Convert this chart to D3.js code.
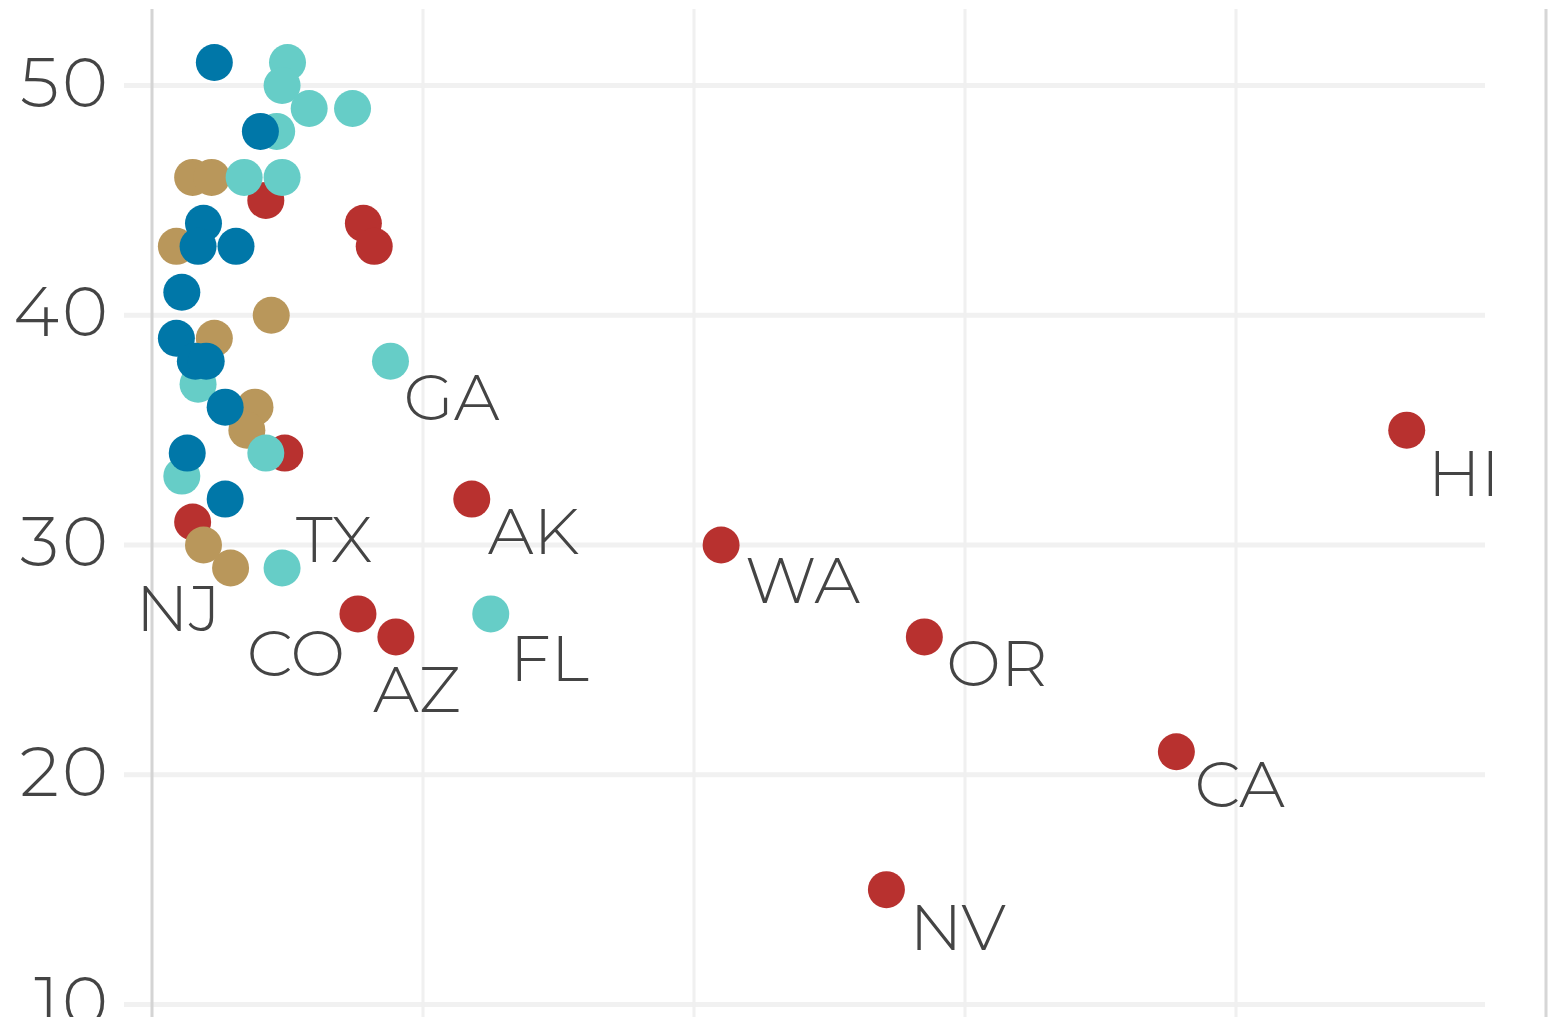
<!DOCTYPE html>
<html>
<head>
<meta charset="utf-8">
<script src="https://d3js.org/d3.v7.min.js"></script>
<style>
  body { margin: 0; background: #fff; }
  text { font-family: Montserrat, Lato, 'Open Sans', sans-serif; font-weight: 300; fill: #444; }
</style>
</head>
<body>
<div id="chart"></div>
<script>
// state labels ('' = unlabelled), region, x value, y value
const labels = [
  'AK', 'AZ', 'CA', 'CO', 'HI', 'NV', 'OR', 'WA', '', '', '', '', '',
  '', '', '', '', '', '', '', 'NJ', '',
  '', '', '', '', '', '', '', 'GA', '', '', '', 'TX', 'FL',
  '', '', '', '', '', '', '', '', '', '', '', '',
];
const region = [
  'West', 'West', 'West', 'West', 'West', 'West', 'West', 'West', 'West', 'West', 'West', 'West', 'West',
  'Northeast', 'Northeast', 'Northeast', 'Northeast', 'Northeast', 'Northeast', 'Northeast', 'Northeast', 'Northeast',
  'South', 'South', 'South', 'South', 'South', 'South', 'South', 'South', 'South', 'South', 'South', 'South', 'South',
  'Midwest', 'Midwest', 'Midwest', 'Midwest', 'Midwest', 'Midwest', 'Midwest', 'Midwest', 'Midwest', 'Midwest', 'Midwest', 'Midwest',
];
const xVals = [
  11.8, 9.0, 37.8, 7.6, 46.3, 27.1, 28.5, 21.0, 4.2, 7.8, 8.2, 4.9, 1.5,
  1.5, 2.2, 0.9, 4.4, 2.3, 3.8, 3.5, 2.9, 1.9,
  5.0, 4.8, 5.8, 7.4, 4.6, 3.4, 4.8, 8.8, 1.7, 4.2, 1.1, 4.8, 12.5,
  2.3, 4.0, 1.9, 1.7, 3.1, 1.1, 0.9, 1.6, 2.0, 2.7, 1.3, 2.7,
];
const yVals = [
  32, 26, 21, 27, 35, 15, 26, 30, 45, 44, 43, 34, 31,
  46, 46, 43, 40, 39, 36, 35, 29, 30,
  51, 50, 49, 49, 48, 46, 46, 38, 37, 34, 33, 29, 27,
  51, 48, 44, 43, 43, 41, 39, 38, 38, 36, 34, 32,
];
const yTicks = [10, 20, 30, 40, 50];
const xTicks = [10, 20, 30, 40];

// label placement next to its dot
const labelNudge = {
  GA: [13, 59, 'start'], TX: [14, -6, 'start'], NJ: [-10, 63, 'end'],
  CO: [-13, 62, 'end'], AZ: [-23, 75, 'start'], FL: [19, 67, 'start'],
  AK: [16, 55, 'start'], WA: [24, 58, 'start'], OR: [22, 49, 'start'],
  CA: [18, 55, 'start'], NV: [23, 60, 'start'], HI: [21, 66, 'start'],
};

const colors = {
  West: '#b8312f',
  Northeast: '#b9975b',
  South: '#66cdc7',
  Midwest: '#0077a8',
};

const width = 1549;
const height = 1017;

const xScale = d3.scaleLinear().domain([0, 40]).range([152, 1236]);
const yScale = d3.scaleLinear().domain([10, 50]).range([1004.5, 85.5]);

const data = labels.map((d, i) => ({
  label: d,
  region: region[i],
  x: xVals[i],
  y: yVals[i],
}));

const svg = d3
  .select('#chart')
  .append('svg')
  .attr('width', width)
  .attr('height', height);

// horizontal grid
svg
  .append('g')
  .selectAll('line')
  .data(yTicks)
  .enter()
  .append('line')
  .attr('x1', 124)
  .attr('x2', 1485)
  .attr('y1', d => yScale(d))
  .attr('y2', d => yScale(d))
  .style('stroke', '#f1f1f1')
  .style('stroke-width', 5);

// vertical grid
svg
  .append('g')
  .selectAll('line')
  .data(xTicks)
  .enter()
  .append('line')
  .attr('x1', d => xScale(d))
  .attr('x2', d => xScale(d))
  .attr('y1', 9)
  .attr('y2', height)
  .style('stroke', '#f0f0f0')
  .style('stroke-width', 3);

// left axis line and right border
svg
  .append('line')
  .attr('x1', xScale(0))
  .attr('x2', xScale(0))
  .attr('y1', 9)
  .attr('y2', height)
  .style('stroke', '#d4d4d4')
  .style('stroke-width', 3);

svg
  .append('line')
  .attr('x1', 1546)
  .attr('x2', 1546)
  .attr('y1', 9)
  .attr('y2', height)
  .style('stroke', '#d6d6d6')
  .style('stroke-width', 3);

// y tick labels
svg
  .append('g')
  .selectAll('text')
  .data(yTicks)
  .enter()
  .append('text')
  .attr('x', 111)
  .attr('y', d => yScale(d) - 4)
  .attr('dy', '0.36em')
  .attr('text-anchor', 'end')
  .style('font-size', '70px')
  .style('letter-spacing', '3px')
  .text(d => d);

// dots
svg
  .append('g')
  .selectAll('circle')
  .data(data)
  .enter()
  .append('circle')
  .attr('cx', d => xScale(d.x))
  .attr('cy', d => yScale(d.y))
  .attr('r', 18.5)
  .style('fill', d => colors[d.region]);

// state labels
svg
  .append('g')
  .selectAll('text')
  .data(data.filter(d => d.label))
  .enter()
  .append('text')
  .attr('x', d => xScale(d.x) + labelNudge[d.label][0])
  .attr('y', d => yScale(d.y) + labelNudge[d.label][1])
  .attr('text-anchor', d => labelNudge[d.label][2])
  .style('font-size', '65px')
  .text(d => d.label);
</script>
</body>
</html>
